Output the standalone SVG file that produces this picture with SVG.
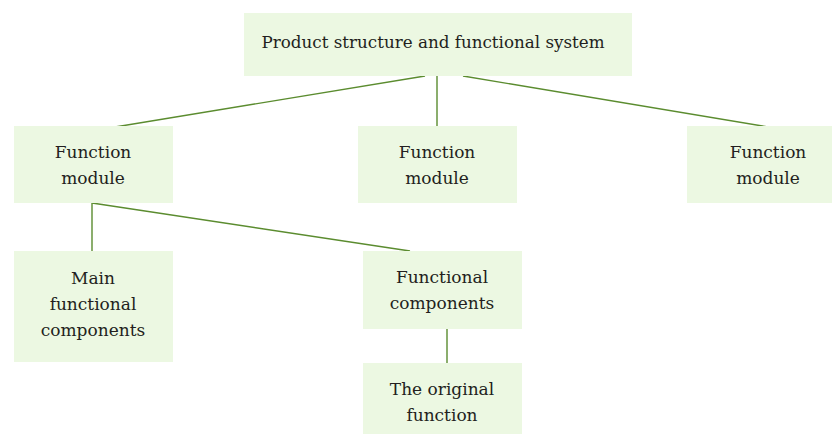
<svg xmlns="http://www.w3.org/2000/svg" width="832" height="434" viewBox="0 0 832 434">
<style>
.box{fill:#ecf8e2;}
.t{font-family:"DejaVu Serif","Liberation Serif",serif;font-size:17px;fill:#231f20;text-anchor:middle;}
.c line{stroke:#5b8c2f;stroke-width:1.4;}
</style>
<rect width="832" height="434" fill="#ffffff"/>
<g id="connectors" class="c">
<line x1="425" y1="76" x2="115" y2="127"/>
<line x1="437" y1="76" x2="437" y2="127"/>
<line x1="463" y1="76" x2="768" y2="127"/>
<line x1="92" y1="203" x2="92" y2="251"/>
<line x1="92" y1="203" x2="410" y2="251"/>
<line x1="447" y1="329" x2="447" y2="363"/>
</g>
<g id="root"><rect class="box" x="244" y="13" width="388" height="63"/><text class="t" x="433" y="48" textLength="343" lengthAdjust="spacingAndGlyphs">Product structure and functional system</text></g>
<g id="fm1"><rect class="box" x="14" y="126" width="159" height="77"/><text class="t" x="93" y="158">Function</text><text class="t" x="93" y="184">module</text></g>
<g id="fm2"><rect class="box" x="358" y="126" width="159" height="77"/><text class="t" x="437" y="158">Function</text><text class="t" x="437" y="184">module</text></g>
<g id="fm3"><rect class="box" x="687" y="126" width="145" height="77"/><text class="t" x="768" y="158">Function</text><text class="t" x="768" y="184">module</text></g>
<g id="main"><rect class="box" x="14" y="251" width="159" height="111"/><text class="t" x="93" y="284">Main</text><text class="t" x="93" y="310">functional</text><text class="t" x="93" y="336">components</text></g>
<g id="fc"><rect class="box" x="363" y="251" width="159" height="78"/><text class="t" x="442" y="283">Functional</text><text class="t" x="442" y="309">components</text></g>
<g id="orig"><rect class="box" x="363" y="363" width="159" height="71"/><text class="t" x="442" y="395">The original</text><text class="t" x="442" y="421">function</text></g>
</svg>
